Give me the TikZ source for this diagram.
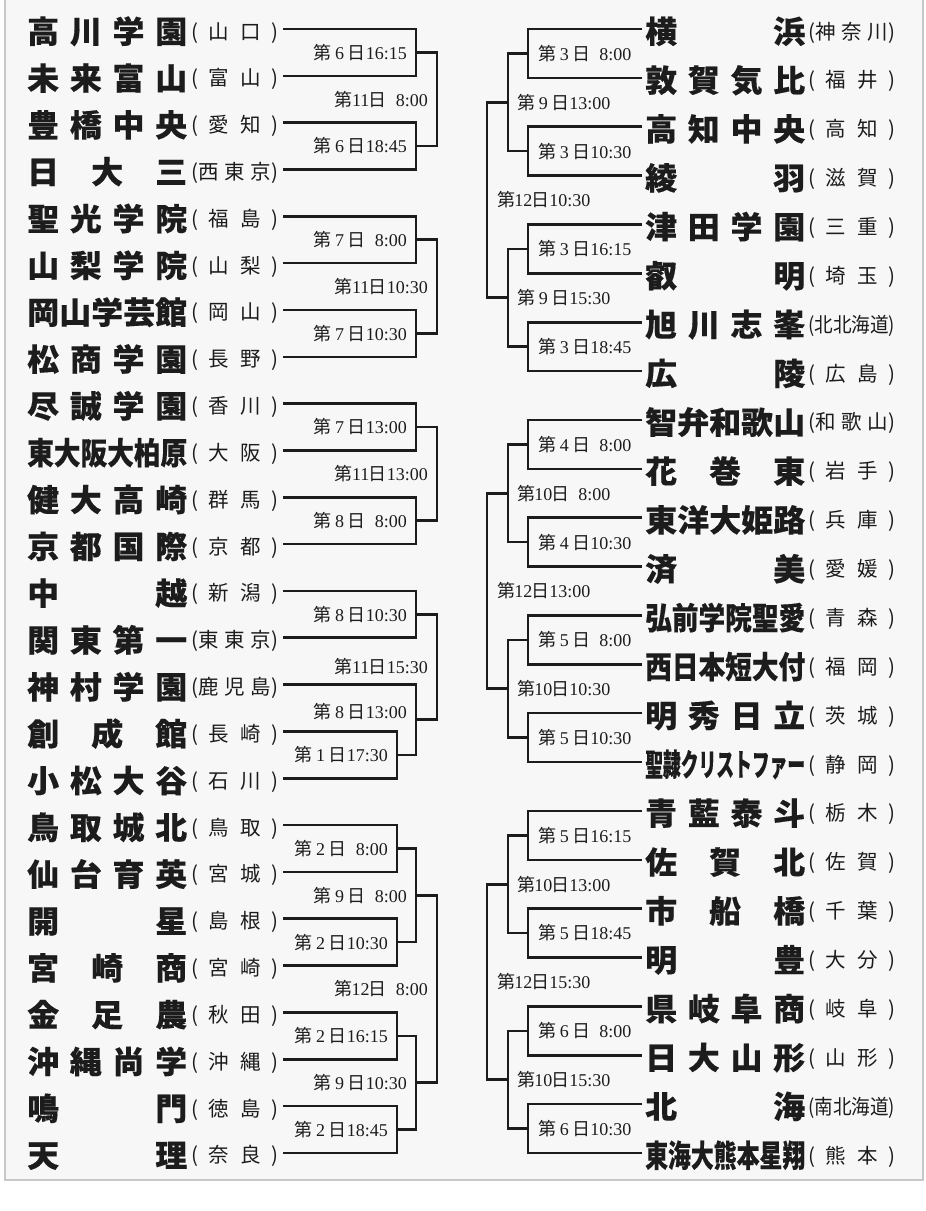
\documentclass[tikz,border=0pt]{standalone}
\usepackage{fontspec}
\usepackage{graphicx}
\setmainfont{Liberation Serif}
\newfontfamily\jpb{Noto Sans CJK JP}[FakeStretch=1.03, BoldFeatures={FakeBold=0.35}]
\newfontfamily\jpr{Noto Sans CJK JP}
\newfontfamily\jpl{Noto Sans CJK JP}
\definecolor{panel}{HTML}{F7F7F7}
\definecolor{panelline}{HTML}{C8C8C8}
\definecolor{ink}{HTML}{1C1C1C}
\newcommand\sq[1]{\resizebox{160pt}{\height}{#1}}
\newcommand\psq[1]{\resizebox{87pt}{\height}{#1}}
\newcommand\dte[2]{{\jpl 第}\makebox[0.9em]{#1}{\jpl 日}#2}
\newcommand\fsp{\hphantom{0}}
\begin{document}
\begin{tikzpicture}[x=1pt,y=-1pt,
  declare function={ly(\i)=29+\i*46.83; ry(\i)=29+\i*48.87;},
  nm/.style={font=\jpb\bfseries\fontsize{31}{31}\selectfont, inner sep=0pt, anchor=base west, text=ink},
  pf/.style={font=\jpr\fontsize{20.5}{20.5}\selectfont, inner sep=0pt, anchor=base west, text=ink},
  dt/.style={font=\fontsize{18}{18}\selectfont, inner sep=0pt, text=ink},
  br/.style={line width=2.6pt, draw=ink, line join=miter}]
\useasboundingbox (0,0) rectangle (926,1211);
\fill[white] (0,0) rectangle (926,1211);
\filldraw[fill=panel, draw=panelline, line width=1.2pt] (923,-2) -- (923,1180) -- (5,1180) -- (5,-2);
% ---------- macros for teams ----------
\newcommand\LT[3]{%
  \node[nm] (ln#1) at (27,{ly(#1)+14}) {\makebox[160pt]{#2}};
  \node[pf] (lp#1) at (191,{ly(#1)+10}) {\makebox[87pt]{#3}};
  \coordinate (la#1) at (283,{ly(#1)});}
\newcommand\RT[3]{%
  \coordinate (ra#1) at (642,{ry(#1)});
  \node[nm] (rn#1) at (645,{ry(#1)+14}) {\makebox[160pt]{#2}};
  \node[pf] (rp#1) at (808,{ry(#1)+10}) {\makebox[87pt]{#3}};}
\newcommand\LP[3]{\draw[br] (la#1) -- (#3,{ly(#1)}) -- (#3,{ly(#2)}) -- (la#2);}
\newcommand\RP[2]{\draw[br] (ra#1) -- (528,{ry(#1)}) -- (528,{ry(#2)}) -- (ra#2);}
\newcommand\LU[4]{\draw[br] (#1,#3) -- (#2,#3) -- (#2,#4) -- (#1,#4);}
% ---------- left teams ----------
\LT{0}{高\hfill 川\hfill 学\hfill 園}{(\hfill 山\hfill 口\hfill)}
\LT{1}{未\hfill 来\hfill 富\hfill 山}{(\hfill 富\hfill 山\hfill)}
\LT{2}{豊\hfill 橋\hfill 中\hfill 央}{(\hfill 愛\hfill 知\hfill)}
\LT{3}{日\hfill 大\hfill 三}{(西\hfill 東\hfill 京)}
\LT{4}{聖\hfill 光\hfill 学\hfill 院}{(\hfill 福\hfill 島\hfill)}
\LT{5}{山\hfill 梨\hfill 学\hfill 院}{(\hfill 山\hfill 梨\hfill)}
\LT{6}{岡\hfill 山\hfill 学\hfill 芸\hfill 館}{(\hfill 岡\hfill 山\hfill)}
\LT{7}{松\hfill 商\hfill 学\hfill 園}{(\hfill 長\hfill 野\hfill)}
\LT{8}{尽\hfill 誠\hfill 学\hfill 園}{(\hfill 香\hfill 川\hfill)}
\LT{9}{\sq{東大阪大柏原}}{(\hfill 大\hfill 阪\hfill)}
\LT{10}{健\hfill 大\hfill 高\hfill 崎}{(\hfill 群\hfill 馬\hfill)}
\LT{11}{京\hfill 都\hfill 国\hfill 際}{(\hfill 京\hfill 都\hfill)}
\LT{12}{中\hfill 越}{(\hfill 新\hfill 潟\hfill)}
\LT{13}{関\hfill 東\hfill 第\hfill 一}{(東\hfill 東\hfill 京)}
\LT{14}{神\hfill 村\hfill 学\hfill 園}{(鹿\hfill 児\hfill 島)}
\LT{15}{創\hfill 成\hfill 館}{(\hfill 長\hfill 崎\hfill)}
\LT{16}{小\hfill 松\hfill 大\hfill 谷}{(\hfill 石\hfill 川\hfill)}
\LT{17}{鳥\hfill 取\hfill 城\hfill 北}{(\hfill 鳥\hfill 取\hfill)}
\LT{18}{仙\hfill 台\hfill 育\hfill 英}{(\hfill 宮\hfill 城\hfill)}
\LT{19}{開\hfill 星}{(\hfill 島\hfill 根\hfill)}
\LT{20}{宮\hfill 崎\hfill 商}{(\hfill 宮\hfill 崎\hfill)}
\LT{21}{金\hfill 足\hfill 農}{(\hfill 秋\hfill 田\hfill)}
\LT{22}{沖\hfill 縄\hfill 尚\hfill 学}{(\hfill 沖\hfill 縄\hfill)}
\LT{23}{鳴\hfill 門}{(\hfill 徳\hfill 島\hfill)}
\LT{24}{天\hfill 理}{(\hfill 奈\hfill 良\hfill)}
% ---------- right teams ----------
\RT{0}{横\hfill 浜}{(神\hfill 奈\hfill 川)}
\RT{1}{敦\hfill 賀\hfill 気\hfill 比}{(\hfill 福\hfill 井\hfill)}
\RT{2}{高\hfill 知\hfill 中\hfill 央}{(\hfill 高\hfill 知\hfill)}
\RT{3}{綾\hfill 羽}{(\hfill 滋\hfill 賀\hfill)}
\RT{4}{津\hfill 田\hfill 学\hfill 園}{(\hfill 三\hfill 重\hfill)}
\RT{5}{叡\hfill 明}{(\hfill 埼\hfill 玉\hfill)}
\RT{6}{旭\hfill 川\hfill 志\hfill 峯}{\psq{(北北海道)}}
\RT{7}{広\hfill 陵}{(\hfill 広\hfill 島\hfill)}
\RT{8}{\sq{智弁和歌山}}{(和\hfill 歌\hfill 山)}
\RT{9}{花\hfill 巻\hfill 東}{(\hfill 岩\hfill 手\hfill)}
\RT{10}{\sq{東洋大姫路}}{(\hfill 兵\hfill 庫\hfill)}
\RT{11}{済\hfill 美}{(\hfill 愛\hfill 媛\hfill)}
\RT{12}{\sq{弘前学院聖愛}}{(\hfill 青\hfill 森\hfill)}
\RT{13}{\sq{西日本短大付}}{(\hfill 福\hfill 岡\hfill)}
\RT{14}{明\hfill 秀\hfill 日\hfill 立}{(\hfill 茨\hfill 城\hfill)}
\RT{15}{\sq{聖隷クリストファー}}{(\hfill 静\hfill 岡\hfill)}
\RT{16}{青\hfill 藍\hfill 泰\hfill 斗}{(\hfill 栃\hfill 木\hfill)}
\RT{17}{佐\hfill 賀\hfill 北}{(\hfill 佐\hfill 賀\hfill)}
\RT{18}{市\hfill 船\hfill 橋}{(\hfill 千\hfill 葉\hfill)}
\RT{19}{明\hfill 豊}{(\hfill 大\hfill 分\hfill)}
\RT{20}{県\hfill 岐\hfill 阜\hfill 商}{(\hfill 岐\hfill 阜\hfill)}
\RT{21}{日\hfill 大\hfill 山\hfill 形}{(\hfill 山\hfill 形\hfill)}
\RT{22}{北\hfill 海}{\psq{(南北海道)}}
\RT{23}{\sq{東海大熊本星翔}}{(\hfill 熊\hfill 本\hfill)}
% ---------- left brackets ----------
\pgfmathsetmacro\mAa{(ly(0)+ly(1))/2}\pgfmathsetmacro\mAb{(ly(2)+ly(3))/2}\pgfmathsetmacro\qA{(\mAa+\mAb)/2}
\LP{0}{1}{416}\LP{2}{3}{416}\LU{416}{437}{\mAa}{\mAb}
\node[dt,anchor=east] (dA1) at (407,\mAa) {\dte{6}{16:15}};
\node[dt,anchor=east] (dA2) at (428,\qA) {\dte{11}{\fsp8:00}};
\node[dt,anchor=east] (dA3) at (407,\mAb) {\dte{6}{18:45}};
\pgfmathsetmacro\mBa{(ly(4)+ly(5))/2}\pgfmathsetmacro\mBb{(ly(6)+ly(7))/2}\pgfmathsetmacro\qB{(\mBa+\mBb)/2}
\LP{4}{5}{416}\LP{6}{7}{416}\LU{416}{437}{\mBa}{\mBb}
\node[dt,anchor=east] (dB1) at (407,\mBa) {\dte{7}{\fsp8:00}};
\node[dt,anchor=east] (dB2) at (428,\qB) {\dte{11}{10:30}};
\node[dt,anchor=east] (dB3) at (407,\mBb) {\dte{7}{10:30}};
\pgfmathsetmacro\mCa{(ly(8)+ly(9))/2}\pgfmathsetmacro\mCb{(ly(10)+ly(11))/2}\pgfmathsetmacro\qC{(\mCa+\mCb)/2}
\LP{8}{9}{416}\LP{10}{11}{416}\LU{416}{437}{\mCa}{\mCb}
\node[dt,anchor=east] (dC1) at (407,\mCa) {\dte{7}{13:00}};
\node[dt,anchor=east] (dC2) at (428,\qC) {\dte{11}{13:00}};
\node[dt,anchor=east] (dC3) at (407,\mCb) {\dte{8}{\fsp8:00}};
\pgfmathsetmacro\mDa{(ly(12)+ly(13))/2}\pgfmathsetmacro\mDc{(ly(15)+ly(16))/2}
\pgfmathsetmacro\mDb{(ly(14)+\mDc)/2}\pgfmathsetmacro\qD{(\mDa+\mDb)/2}
\LP{12}{13}{416}\LP{15}{16}{397}
\draw[br] (la14) -- (416,{ly(14)}) -- (416,\mDc) -- (397,\mDc);
\LU{416}{437}{\mDa}{\mDb}
\node[dt,anchor=east] (dD1) at (407,\mDa) {\dte{8}{10:30}};
\node[dt,anchor=east] (dD2) at (428,\qD) {\dte{11}{15:30}};
\node[dt,anchor=east] (dD3) at (407,\mDb-8) {\dte{8}{13:00}};
\node[dt,anchor=east] (dD4) at (388,\mDc) {\dte{1}{17:30}};
\pgfmathsetmacro\mEa{(ly(17)+ly(18))/2}\pgfmathsetmacro\mEb{(ly(19)+ly(20))/2}
\pgfmathsetmacro\mEc{(ly(21)+ly(22))/2}\pgfmathsetmacro\mEd{(ly(23)+ly(24))/2}
\pgfmathsetmacro\qEa{(\mEa+\mEb)/2}\pgfmathsetmacro\qEb{(\mEc+\mEd)/2}\pgfmathsetmacro\hE{(\qEa+\qEb)/2}
\LP{17}{18}{397}\LP{19}{20}{397}\LP{21}{22}{397}\LP{23}{24}{397}
\LU{397}{416}{\mEa}{\mEb}\LU{397}{416}{\mEc}{\mEd}\LU{416}{437}{\qEa}{\qEb}
\node[dt,anchor=east] (dE1) at (388,\mEa) {\dte{2}{\fsp8:00}};
\node[dt,anchor=east] (dE2) at (407,\qEa) {\dte{9}{\fsp8:00}};
\node[dt,anchor=east] (dE3) at (388,\mEb) {\dte{2}{10:30}};
\node[dt,anchor=east] (dE4) at (428,\hE) {\dte{12}{\fsp8:00}};
\node[dt,anchor=east] (dE5) at (388,\mEc) {\dte{2}{16:15}};
\node[dt,anchor=east] (dE6) at (407,\qEb) {\dte{9}{10:30}};
\node[dt,anchor=east] (dE7) at (388,\mEd) {\dte{2}{18:45}};
% ---------- right brackets ----------
\newcommand\RG[8]{%
  \RP{#1}{#2}\RP{#3}{#4}\RP{#5}{#6}\RP{#7}{#8}
  \pgfmathsetmacro\rMa{(ry(#1)+ry(#2))/2}\pgfmathsetmacro\rMb{(ry(#3)+ry(#4))/2}
  \pgfmathsetmacro\rMc{(ry(#5)+ry(#6))/2}\pgfmathsetmacro\rMd{(ry(#7)+ry(#8))/2}
  \pgfmathsetmacro\rQa{(\rMa+\rMb)/2}\pgfmathsetmacro\rQb{(\rMc+\rMd)/2}
  \pgfmathsetmacro\rH{(\rQa+\rQb)/2}
  \LU{528}{508}{\rMa}{\rMb}\LU{528}{508}{\rMc}{\rMd}\LU{508}{487}{\rQa}{\rQb}}
\newcommand\RL[8]{%
  \node[dt,anchor=west] (#1a) at (538,\rMa) {#2};
  \node[dt,anchor=west] (#1b) at (517,\rQa) {#3};
  \node[dt,anchor=west] (#1c) at (538,\rMb) {#4};
  \node[dt,anchor=west] (#1d) at (497,\rH) {#5};
  \node[dt,anchor=west] (#1e) at (538,\rMc) {#6};
  \node[dt,anchor=west] (#1f) at (517,\rQb) {#7};
  \node[dt,anchor=west] (#1g) at (538,\rMd) {#8};}
\RG{0}{1}{2}{3}{4}{5}{6}{7}
\RL{rg}{\dte{3}{\fsp8:00}}{\dte{9}{13:00}}{\dte{3}{10:30}}{\dte{12}{10:30}}{\dte{3}{16:15}}{\dte{9}{15:30}}{\dte{3}{18:45}}
\RG{8}{9}{10}{11}{12}{13}{14}{15}
\RL{rh}{\dte{4}{\fsp8:00}}{\dte{10}{\fsp8:00}}{\dte{4}{10:30}}{\dte{12}{13:00}}{\dte{5}{\fsp8:00}}{\dte{10}{10:30}}{\dte{5}{10:30}}
\RG{16}{17}{18}{19}{20}{21}{22}{23}
\RL{ri}{\dte{5}{16:15}}{\dte{10}{13:00}}{\dte{5}{18:45}}{\dte{12}{15:30}}{\dte{6}{\fsp8:00}}{\dte{10}{15:30}}{\dte{6}{10:30}}
\end{tikzpicture}
\end{document}
